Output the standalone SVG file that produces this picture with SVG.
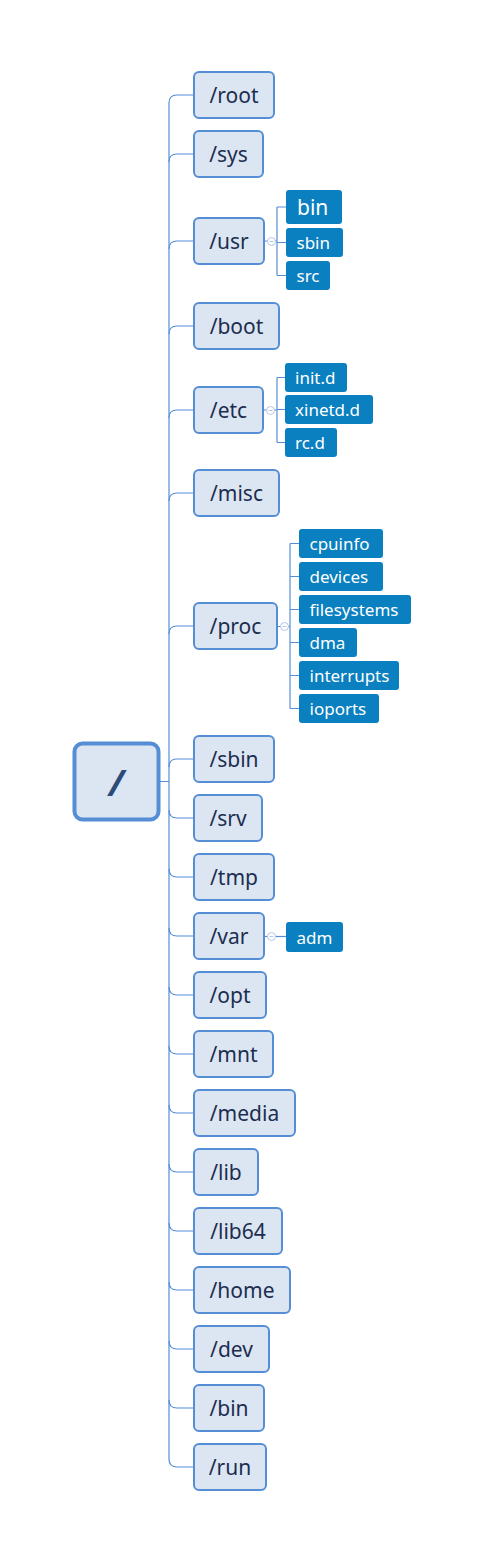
<svg xmlns="http://www.w3.org/2000/svg" width="490" height="1559" viewBox="0 0 490 1559">
<style>
.n rect{fill:#dce6f2;stroke:#558ed5;stroke-width:2}
.n text{font-family:"Noto Sans","Open Sans",sans-serif;font-size:21px;fill:#1c2e50;text-anchor:middle;dominant-baseline:central}
.c rect{fill:#0a80c0}
.c text{font-family:"Noto Sans","Open Sans",sans-serif;font-size:17px;fill:#ffffff;dominant-baseline:central}
.ln{fill:none;stroke:#558ed5;stroke-width:1.2}
.tg{fill:#ffffff;stroke:#b4c7e7;stroke-width:1}
.tm{stroke:#b4c7e7;stroke-width:1}
</style>
<rect width="490" height="1559" fill="#ffffff"/>
<g id="connectors">
<path class="ln" d="M158,781.5 H169 M169,103 V1459"/>
<path class="ln" d="M169,103 Q169,95 177,95 H194 M169,162 Q169,154 177,154 H194 M169,249 Q169,241 177,241 H194 M169,334 Q169,326 177,326 H194 M169,418 Q169,410 177,410 H194 M169,501 Q169,493 177,493 H194 M169,634 Q169,626 177,626 H194 M169,767 Q169,759 177,759 H194"/>
<path class="ln" d="M169,810 Q169,818 177,818 H194 M169,869 Q169,877 177,877 H194 M169,928 Q169,936 177,936 H194 M169,987 Q169,995 177,995 H194 M169,1046 Q169,1054 177,1054 H194 M169,1105 Q169,1113 177,1113 H194 M169,1164 Q169,1172 177,1172 H194 M169,1223 Q169,1231 177,1231 H194 M169,1282 Q169,1290 177,1290 H194 M169,1341 Q169,1349 177,1349 H194 M169,1400 Q169,1408 177,1408 H194 M169,1459 Q169,1467 177,1467 H194"/>
<path class="ln" d="M264,241 H277 M277,207 V275.5 M277,207 H286 M277,242.5 H286 M277,275.5 H286"/>
<path class="ln" d="M263,410 H277 M277,377.5 V442.5 M277,377.5 H285 M277,409.5 H285 M277,442.5 H285"/>
<path class="ln" d="M277,626.5 H290 M290,543.5 V708.5 M290,543.5 H299 M290,576.5 H299 M290,609.5 H299 M290,642.5 H299 M290,675.5 H299 M290,708.5 H299"/>
<path class="ln" d="M264,936.5 H286"/>
<circle class="tg" cx="271.5" cy="241.5" r="4"/><path class="tm" d="M269.5,241.5 H273.5"/>
<circle class="tg" cx="270.5" cy="410.5" r="4"/><path class="tm" d="M268.5,410.5 H272.5"/>
<circle class="tg" cx="284.5" cy="626.5" r="4"/><path class="tm" d="M282.5,626.5 H286.5"/>
<circle class="tg" cx="271.5" cy="936.5" r="4"/><path class="tm" d="M269.5,936.5 H273.5"/>
</g>
<g id="root"><rect x="74.5" y="743.5" width="84" height="76" rx="8" fill="#dce6f2" stroke="#558ed5" stroke-width="4"/><text x="116.5" y="782" font-family="'Noto Sans',sans-serif" font-size="36" font-weight="bold" font-style="italic" fill="#2c4a7c" text-anchor="middle" dominant-baseline="central">/</text></g>
<g id="n-root" class="n"><rect x="194" y="72" width="80" height="46" rx="5"/><text x="234" y="95">/root</text></g>
<g id="n-sys" class="n"><rect x="194" y="131" width="69" height="46" rx="5"/><text x="228.5" y="154">/sys</text></g>
<g id="n-usr" class="n"><rect x="194" y="218" width="70" height="46" rx="5"/><text x="229" y="241">/usr</text></g>
<g id="n-boot" class="n"><rect x="194" y="303" width="85" height="46" rx="5"/><text x="236.5" y="326">/boot</text></g>
<g id="n-etc" class="n"><rect x="194" y="387" width="69" height="46" rx="5"/><text x="228.5" y="410">/etc</text></g>
<g id="n-misc" class="n"><rect x="194" y="470" width="85" height="46" rx="5"/><text x="236.5" y="493">/misc</text></g>
<g id="n-proc" class="n"><rect x="194" y="603" width="83" height="46" rx="5"/><text x="235.5" y="626">/proc</text></g>
<g id="n-sbin" class="n"><rect x="194" y="736" width="80" height="46" rx="5"/><text x="234" y="759">/sbin</text></g>
<g id="n-srv" class="n"><rect x="194" y="795" width="68" height="46" rx="5"/><text x="228" y="818">/srv</text></g>
<g id="n-tmp" class="n"><rect x="194" y="854" width="80" height="46" rx="5"/><text x="234" y="877">/tmp</text></g>
<g id="n-var" class="n"><rect x="194" y="913" width="70" height="46" rx="5"/><text x="229" y="936">/var</text></g>
<g id="n-opt" class="n"><rect x="194" y="972" width="72" height="46" rx="5"/><text x="230" y="995">/opt</text></g>
<g id="n-mnt" class="n"><rect x="194" y="1031" width="79" height="46" rx="5"/><text x="233.5" y="1054">/mnt</text></g>
<g id="n-media" class="n"><rect x="194" y="1090" width="101" height="46" rx="5"/><text x="244.5" y="1113">/media</text></g>
<g id="n-lib" class="n"><rect x="194" y="1149" width="64" height="46" rx="5"/><text x="226" y="1172">/lib</text></g>
<g id="n-lib64" class="n"><rect x="194" y="1208" width="88" height="46" rx="5"/><text x="238" y="1231">/lib64</text></g>
<g id="n-home" class="n"><rect x="194" y="1267" width="96" height="46" rx="5"/><text x="242" y="1290">/home</text></g>
<g id="n-dev" class="n"><rect x="194" y="1326" width="75" height="46" rx="5"/><text x="231.5" y="1349">/dev</text></g>
<g id="n-bin" class="n"><rect x="194" y="1385" width="70" height="46" rx="5"/><text x="229" y="1408">/bin</text></g>
<g id="n-run" class="n"><rect x="194" y="1444" width="72" height="46" rx="5"/><text x="230" y="1467">/run</text></g>
<g id="c-usr-bin" class="c"><rect x="286" y="190" width="56" height="34" rx="3"/><text x="297" y="207" style="font-size:21px">bin</text></g>
<g id="c-usr-sbin" class="c"><rect x="286" y="228" width="57" height="29" rx="3"/><text x="296.5" y="242.5">sbin</text></g>
<g id="c-usr-src" class="c"><rect x="286" y="261" width="44" height="29" rx="3"/><text x="296.5" y="275.5">src</text></g>
<g id="c-etc-init" class="c"><rect x="285" y="363" width="62" height="29" rx="3"/><text x="295" y="377.5">init.d</text></g>
<g id="c-etc-xinetd" class="c"><rect x="285" y="395" width="88" height="29" rx="3"/><text x="295" y="409.5">xinetd.d</text></g>
<g id="c-etc-rc" class="c"><rect x="285" y="428" width="52" height="29" rx="3"/><text x="295" y="442.5">rc.d</text></g>
<g id="c-proc-cpuinfo" class="c"><rect x="299" y="529" width="84" height="29" rx="3"/><text x="309.5" y="543.5">cpuinfo</text></g>
<g id="c-proc-devices" class="c"><rect x="299" y="562" width="84" height="29" rx="3"/><text x="309.5" y="576.5">devices</text></g>
<g id="c-proc-filesystems" class="c"><rect x="299" y="595" width="112" height="29" rx="3"/><text x="309.5" y="609.5">filesystems</text></g>
<g id="c-proc-dma" class="c"><rect x="299" y="628" width="58" height="29" rx="3"/><text x="309.5" y="642.5">dma</text></g>
<g id="c-proc-interrupts" class="c"><rect x="299" y="661" width="100" height="29" rx="3"/><text x="309.5" y="675.5">interrupts</text></g>
<g id="c-proc-ioports" class="c"><rect x="299" y="694" width="80" height="29" rx="3"/><text x="309.5" y="708.5">ioports</text></g>
<g id="c-var-adm" class="c"><rect x="286" y="922" width="57" height="30" rx="3"/><text x="296.5" y="937">adm</text></g>
</svg>
